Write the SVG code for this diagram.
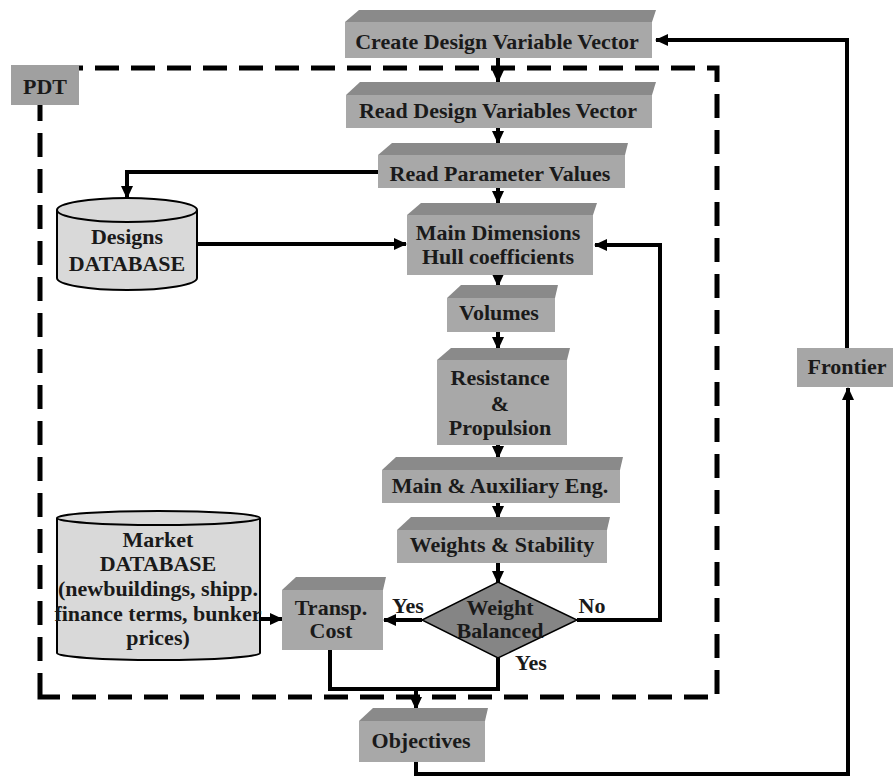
<svg xmlns="http://www.w3.org/2000/svg" width="893" height="778" viewBox="0 0 893 778">
<style>
.front{fill:#a8a8a8}
.top{fill:#8a8a8a}
.db{fill:#d9d9d9;stroke:#000;stroke-width:2}
.t{font-family:'Liberation Serif',serif;font-weight:700;font-size:22px;fill:#1a1a1a;text-anchor:middle}
.c{fill:none;stroke:#000;stroke-width:4}
.dash{fill:none;stroke:#000;stroke-width:5;stroke-dasharray:24 12}
</style>
<defs>
<marker id="ah" markerUnits="userSpaceOnUse" markerWidth="14" markerHeight="14" viewBox="0 0 14 14" refX="12" refY="7" orient="auto">
<path d="M0,1 L13,7 L0,13 Z" fill="#000"/>
</marker>
</defs>
<rect width="893" height="778" fill="#fff"/>

<g id="pdt-boundary">
<path class="dash" d="M40,697 V68 H717 V697 Z"/>
</g>

<g id="connectors">
<path class="c" d="M498,58 V82" marker-end="url(#ah)"/>
<path class="c" d="M498,128 V143" marker-end="url(#ah)"/>
<path class="c" d="M498,188 V203" marker-end="url(#ah)"/>
<path class="c" d="M378,172 H127 V198" marker-end="url(#ah)"/>
<path class="c" d="M197,244 H406" marker-end="url(#ah)"/>
<path class="c" d="M498,275 V286" marker-end="url(#ah)"/>
<path class="c" d="M498,332 V349" marker-end="url(#ah)"/>
<path class="c" d="M498,445 V458" marker-end="url(#ah)"/>
<path class="c" d="M498,503 V518" marker-end="url(#ah)"/>
<path class="c" d="M498,563 V583" marker-end="url(#ah)"/>
<path class="c" d="M577,620 H660 V245 H595" marker-end="url(#ah)"/>
<path class="c" d="M422,620 H384" marker-end="url(#ah)"/>
<path class="c" d="M258,619 H282" marker-end="url(#ah)"/>
<path class="c" d="M498,658 V689 H330 V650"/>
<path class="c" d="M416,689 V709" marker-end="url(#ah)"/>
<path class="c" d="M416,762 V774 H848 V388" marker-end="url(#ah)"/>
<path class="c" d="M847,348 V40 H656" marker-end="url(#ah)"/>
</g>

<g id="create">
<polygon class="top" points="345,22 359,10 656,10 652,22"/>
<rect class="front" x="345" y="22" width="307" height="36"/>
<text class="t" x="497" y="49">Create Design Variable Vector</text>
</g>

<g id="pdt">
<rect x="11" y="65" width="68" height="40" fill="#a0a0a0"/>
<text class="t" x="45" y="94">PDT</text>
</g>

<g id="read-dv">
<polygon class="top" points="346,95 360,82 656,82 652,95"/>
<rect class="front" x="346" y="95" width="306" height="33"/>
<text class="t" x="498" y="118">Read Design Variables Vector</text>
</g>

<g id="read-pv">
<polygon class="top" points="378,155 392,143 628,143 625,155"/>
<rect class="front" x="378" y="155" width="247" height="33"/>
<text class="t" x="500" y="181">Read Parameter Values</text>
</g>

<g id="designs-db">
<path class="db" d="M57,210 A70,12 0 0 1 197,210 V278 A70,12 0 0 1 57,278 Z"/>
<path fill="none" stroke="#000" stroke-width="2" d="M57,210 A70,12 0 0 0 197,210"/>
<text class="t" x="127" y="244">Designs</text>
<text class="t" x="127" y="271">DATABASE</text>
</g>

<g id="main-dim">
<polygon class="top" points="407,215 421,203 597,203 593,215"/>
<rect class="front" x="407" y="215" width="186" height="60"/>
<text class="t" x="498" y="240">Main Dimensions</text>
<text class="t" x="498" y="264">Hull coefficients</text>
</g>

<g id="volumes">
<polygon class="top" points="447,298 461,285 558,285 555,298"/>
<rect class="front" x="447" y="298" width="108" height="34"/>
<text class="t" x="499" y="320">Volumes</text>
</g>

<g id="resistance">
<polygon class="top" points="437,360 451,348 570,348 567,360"/>
<rect class="front" x="437" y="360" width="130" height="85"/>
<text class="t" x="500" y="385">Resistance</text>
<text class="t" x="500" y="411">&amp;</text>
<text class="t" x="500" y="435">Propulsion</text>
</g>

<g id="main-aux">
<polygon class="top" points="382,470 396,457 623,457 620,470"/>
<rect class="front" x="382" y="470" width="238" height="33"/>
<text class="t" x="500" y="493">Main &amp; Auxiliary Eng.</text>
</g>

<g id="weights">
<polygon class="top" points="397,530 411,517 610,517 607,530"/>
<rect class="front" x="397" y="530" width="210" height="33"/>
<text class="t" x="502" y="552">Weights &amp; Stability</text>
</g>

<g id="weight-balanced">
<polygon points="498,582 577,620 498,658 422,620" fill="#858585" stroke="#000" stroke-width="1.5"/>
<text class="t" x="500" y="615">Weight</text>
<text class="t" x="500" y="638">Balanced</text>
</g>

<g id="labels">
<text class="t" x="408" y="613">Yes</text>
<text class="t" x="592" y="613">No</text>
<text class="t" x="531" y="670">Yes</text>
</g>

<g id="market-db">
<path class="db" d="M57,518 A101.5,7 0 0 1 260,518 V653 A101.5,7 0 0 1 57,653 Z"/>
<path fill="none" stroke="#000" stroke-width="2" d="M57,518 A101.5,7 0 0 0 260,518"/>
<text class="t" x="158" y="547">Market</text>
<text class="t" x="158" y="571">DATABASE</text>
<text class="t" x="158" y="596">(newbuildings, shipp.</text>
<text class="t" x="158" y="621">finance terms, bunker</text>
<text class="t" x="158" y="645">prices)</text>
</g>

<g id="transp">
<polygon class="top" points="282,590 296,577 386,577 383,590"/>
<rect class="front" x="282" y="590" width="101" height="60"/>
<text class="t" x="331" y="615">Transp.</text>
<text class="t" x="331" y="638">Cost</text>
</g>

<g id="objectives">
<polygon class="top" points="359,721 373,708 488,708 485,721"/>
<rect class="front" x="359" y="721" width="126" height="41"/>
<text class="t" x="421" y="748">Objectives</text>
</g>

<g id="frontier">
<rect x="797" y="348" width="96" height="39" fill="#a6a6a6"/>
<text class="t" x="847" y="374">Frontier</text>
</g>
</svg>
